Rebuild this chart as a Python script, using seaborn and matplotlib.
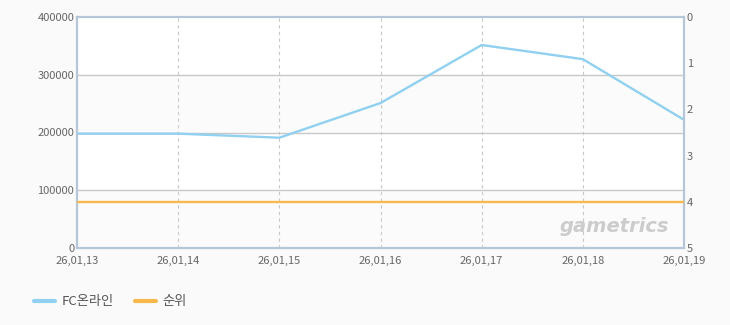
import matplotlib
matplotlib.use("Agg")
import matplotlib.pyplot as plt
import seaborn as sns
import pandas as pd
import numpy as np
from matplotlib.lines import Line2D

dates = ["26,01,13", "26,01,14", "26,01,15", "26,01,16", "26,01,17", "26,01,18", "26,01,19"]
users = [198000, 198000, 191000, 251000, 351500, 327000, 222000]
rank = [4, 4, 4, 4, 4, 4, 4]
left_ticks = [0, 100000, 200000, 300000, 400000]
right_ticks = [0, 1, 2, 3, 4, 5]

sns.set_theme(style="white")
plt.rcParams['font.family'] = ['Noto Sans CJK KR', 'DejaVu Sans']

df = pd.DataFrame({"idx": np.arange(len(dates)), "date": dates, "users": users, "rank": rank})

fig = plt.figure(figsize=(7.3, 3.25), dpi=100, facecolor="#fafafa")
ax = fig.add_axes([77/730, 1-248/325, (684-77)/730, (248-17)/325])
ax.set_facecolor("white")

# alternating bands
for lo, hi in [(0, 100000), (200000, 300000)]:
    ax.axhspan(lo, hi, color="#fbfbfb", zorder=0)

blue = "#90d0f0"
orange = "#f8b94c"
sns.lineplot(data=df, x="idx", y="users", ax=ax, color=blue, linewidth=1.7, zorder=3, legend=False)
ax.set_ylim(0, 400000)
ax.set_xlim(0, len(dates)-1)
ax.set_yticks(left_ticks)
ax.set_yticklabels([str(v) for v in left_ticks])
ax.set_xticks(df["idx"])
ax.set_xticklabels(dates)
ax.set_xlabel("")
ax.set_ylabel("")
for y in left_ticks[1:-1]:
    ax.axhline(y, color="#c8c8c8", linewidth=1, zorder=1)
for x in df["idx"][1:-1]:
    ax.axvline(x, color="#c8c8c8", linewidth=0.8, linestyle=(0, (3, 3)), zorder=1)

ax2 = ax.twinx()
sns.lineplot(data=df, x="idx", y="rank", ax=ax2, color=orange, linewidth=1.7, zorder=3, legend=False)
ax2.set_ylim(5, 0)
ax2.set_yticks(right_ticks)
ax2.set_yticklabels([str(v) for v in right_ticks])
ax2.set_ylabel("")
ax2.set_xlim(0, len(dates)-1)

for a in (ax, ax2):
    for s in a.spines.values():
        s.set_color("#b4c6d8")
        s.set_linewidth(1.5)
    a.tick_params(axis="both", labelsize=8, labelcolor="#666666", length=0, pad=2)
ax.tick_params(axis="x", pad=6)
ax2.tick_params(axis="y", pad=2)

ax.text(0.975, 0.05, "gametrics", transform=ax.transAxes, ha="right", va="bottom",
        fontsize=14, fontweight="bold", style="italic", color="#cccccc",
        family="DejaVu Sans", zorder=2)

handles = [Line2D([], [], color=blue, linewidth=3), Line2D([], [], color=orange, linewidth=3)]
fig.legend(handles, ["FC온라인", "순위"], loc="center left", bbox_to_anchor=(0.03, 1-302/325),
           ncol=2, frameon=False, fontsize=9.5, handlelength=1.6, handletextpad=0.5,
           columnspacing=1.6, labelcolor="#555555")

fig.savefig("out.png", dpi=100, facecolor=fig.get_facecolor())
